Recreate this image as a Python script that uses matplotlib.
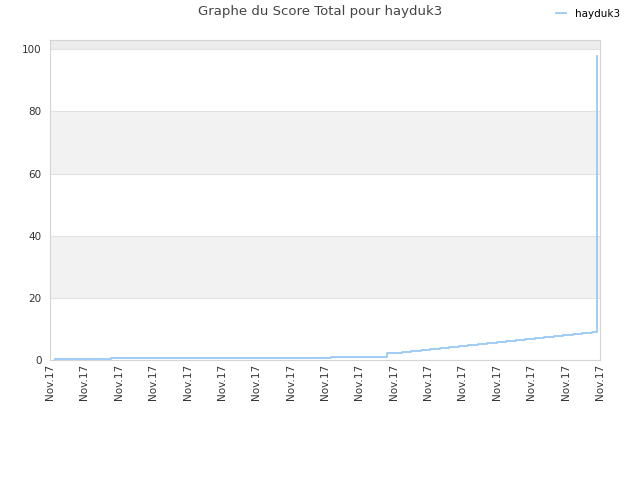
import matplotlib
matplotlib.use('Agg')
import matplotlib.pyplot as plt

# step positions (arbitrary time units, all on Nov.17) and total score
times = [0.15, 1.77, 4.95, 8.16, 9.795, 9.94, 10.23, 10.50, 10.78, 11.06, 11.34,
         11.62, 11.89, 12.16, 12.44, 12.72, 13.00, 13.27, 13.55, 13.83, 14.10,
         14.38, 14.65, 14.93, 15.21, 15.49, 15.76, 15.90, 15.91, 15.92]
scores = [0.2, 0.5, 0.8, 1.1, 2.1, 2.4, 2.7, 3.0, 3.3, 3.6, 4.0,
          4.3, 4.6, 4.9, 5.2, 5.5, 5.8, 6.1, 6.4, 6.7, 7.1,
          7.4, 7.7, 8.0, 8.3, 8.6, 8.9, 16.0, 68.0, 98.0]
tick_labels = ['Nov.17'] * 17

fig = plt.figure(figsize=(6.4, 4.8), dpi=100)
ax = fig.add_axes([50 / 640, 1 - 360 / 480, 550 / 640, 320 / 480])

# alternating bands
for lo, hi, c in [(0, 20, 'white'), (20, 40, '#f2f2f2'), (40, 60, 'white'),
                  (60, 80, '#f2f2f2'), (80, 100, 'white'), (100, 103, '#ececec')]:
	ax.axhspan(lo, hi, color=c, zorder=0, lw=0)
for yv in [20, 40, 60, 80, 100]:
	ax.axhline(yv, color='#e2e2e2', lw=0.8, zorder=1)

ax.plot(times, scores, drawstyle='steps-post', color='#99c9f5', lw=1.3,
	label='hayduk3', zorder=3)

ax.set_xlim(0, 16)
ax.set_ylim(0, 103)
ax.set_xticks(range(17))
ax.set_xticklabels(tick_labels, rotation=90, fontsize=7.5, color='#333333')
ax.set_yticks([0, 20, 40, 60, 80, 100])
ax.tick_params(axis='y', labelsize=7.5, colors='#333333', length=0, pad=6)
ax.tick_params(axis='x', length=0, pad=3)
for s in ax.spines.values():
	s.set_color('#d4d4d4')

fig.text(0.5, 1 - 12 / 480, 'Graphe du Score Total pour hayduk3',
	ha='center', va='center', fontsize=9.5, color='#444444')
fig.legend(loc='center', bbox_to_anchor=(588 / 640, 1 - 14 / 480), frameon=False,
	fontsize=7.5, handlelength=1.0)

fig.savefig('out.png', dpi=100)
